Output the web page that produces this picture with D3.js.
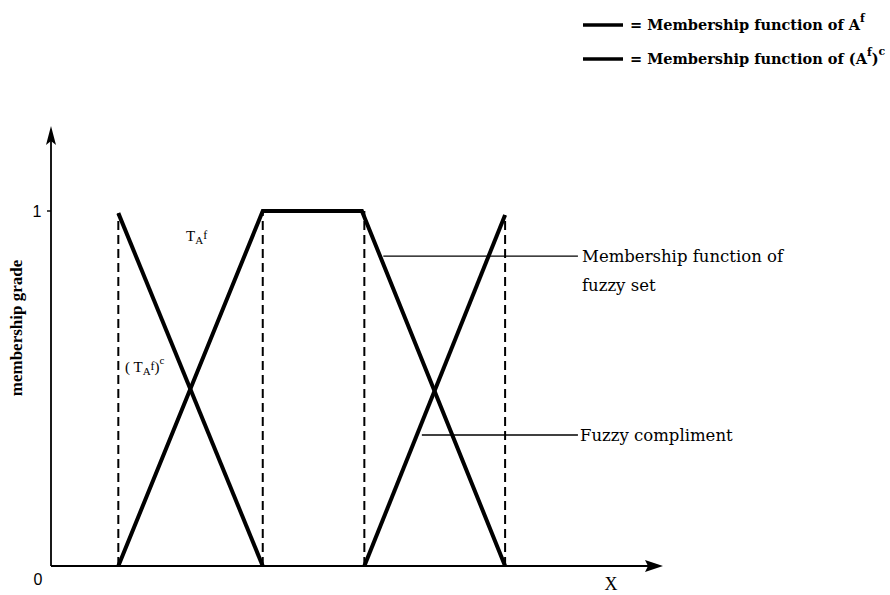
<!DOCTYPE html>
<html><head><meta charset="utf-8">
<script src="https://cdn.jsdelivr.net/npm/d3@7"></script>
<style>body{margin:0;background:#fff}svg{display:block}</style>
</head><body>
<script>
// Data (abstract x units along universe X, y = membership grade)
const fuzzySetX = [11, 34.6, 50.8, 74.2];
const fuzzySetY = [0, 1, 1, 0];
const complementLeftX = [11, 34.6];
const complementLeftY = [0.994, 0];
const complementRightX = [51.2, 74.2];
const complementRightY = [0, 0.989];
const dashedX = [11, 34.6, 51.2, 74.2];
const dashedTop = [0.994, 1, 1, 0.989];
const yTicks = [0, 1];
const annotations = ["Membership function of", "fuzzy set", "Fuzzy compliment"];
const leaderX1 = [54.3, 60.6];
const leaderY = [0.873, 0.369];

const W = 890, H = 595;
const svg = d3.select("body").append("svg").attr("width", W).attr("height", H);
const x = d3.scaleLinear().domain([0, 100]).range([51, 663]);
const y = d3.scaleLinear().domain([0, 1]).range([566, 211]);
const line = d3.line().x(d => x(d[0])).y(d => y(d[1]));

// axes
svg.append("line").attr("x1", x(0)).attr("x2", x(100) - 12).attr("y1", y(0)).attr("y2", y(0))
  .attr("stroke", "#000").attr("stroke-width", 1.8);
svg.append("line").attr("x1", x(0)).attr("x2", x(0)).attr("y1", y(0)).attr("y2", 140)
  .attr("stroke", "#000").attr("stroke-width", 1.8);
// arrowheads
svg.append("path").attr("d", `M${x(100)},${y(0)} L${x(100)-18},${y(0)-6} L${x(100)-15},${y(0)} L${x(100)-18},${y(0)+6} Z`).attr("fill", "#000");
svg.append("path").attr("d", `M${x(0)},126 L${x(0)-5},145 L${x(0)},141 L${x(0)+5},145 Z`).attr("fill", "#000");
// y ticks
svg.append("line").attr("x1", x(0) - 4).attr("x2", x(0)).attr("y1", y(1)).attr("y2", y(1)).attr("stroke", "#000").attr("stroke-width", 1.4);
svg.selectAll("text.tick").data(yTicks).enter().append("text")
  .attr("x", d => d === 0 ? 38 : 37).attr("y", d => d === 0 ? 585 : y(d) + 6)
  .attr("text-anchor", "middle").attr("font-family", "Liberation Sans, Arial, sans-serif")
  .attr("font-size", 16).text(d => d);

svg.append("text").attr("transform", "translate(22,328) rotate(-90)").attr("text-anchor", "middle")
  .attr("font-family", "Liberation Serif, serif").attr("font-size", 17).attr("font-weight", "bold").text("membership grade");
svg.append("text").attr("x", 611).attr("y", 590).attr("text-anchor", "middle")
  .attr("font-family", "Liberation Serif, serif").attr("font-size", 18).text("X");

// dashed verticals
svg.selectAll("line.dash").data(dashedX).enter().append("line")
  .attr("x1", d => x(d)).attr("x2", d => x(d)).attr("y1", y(0)).attr("y2", (d, i) => y(dashedTop[i]))
  .attr("stroke", "#000").attr("stroke-width", 2).attr("stroke-dasharray", "9,5");

// leader lines
leaderY.forEach((v, i) => {
  svg.append("line").attr("x1", x(leaderX1[i])).attr("x2", x(86.1)).attr("y1", y(v)).attr("y2", y(v))
    .attr("stroke", "#000").attr("stroke-width", 1.4);
});

// membership functions
svg.append("path").datum(d3.zip(fuzzySetX, fuzzySetY)).attr("d", line)
  .attr("fill", "none").attr("stroke", "#000").attr("stroke-width", 4).attr("stroke-linejoin", "miter");
[[complementLeftX, complementLeftY], [complementRightX, complementRightY]].forEach(([cx, cy]) => {
  svg.append("path").datum(d3.zip(cx, cy)).attr("d", line)
    .attr("fill", "none").attr("stroke", "#000").attr("stroke-width", 4);
});

// annotation texts
const af = "DejaVu Serif, serif";
svg.append("text").attr("x", 582).attr("y", y(leaderY[0]) + 6).attr("font-family", af).attr("font-size", 16.5).text(annotations[0]);
svg.append("text").attr("x", 582).attr("y", y(leaderY[0]) + 35).attr("font-family", af).attr("font-size", 16.5).text(annotations[1]);
svg.append("text").attr("x", 580).attr("y", y(leaderY[1]) + 6).attr("font-family", af).attr("font-size", 16.5).text(annotations[2]);

// T_A^f labels
function tLabel(g, px, py, comp) {
  const t = g.append("text").attr("x", px).attr("y", py).attr("font-family", "Liberation Serif, serif").attr("font-size", 15);
  if (comp) t.append("tspan").text("( ");
  t.append("tspan").text("T");
  t.append("tspan").attr("dy", 3).attr("font-size", 11).text("A");
  t.append("tspan").attr("dy", -5).attr("font-size", 12).text("f");
  if (comp) { t.append("tspan").attr("dy", 2).text(")"); t.append("tspan").attr("dy", -8).attr("font-size", 11).text("c"); }
}
tLabel(svg, 186, 241, false);
tLabel(svg, 125, 372, true);

// legend
const legF = "DejaVu Serif, serif";
const leg = [{y: 22, label: "A", sup: "f", comp: false}, {y: 56, label: "A", sup: "f", comp: true}];
leg.forEach(d => {
  svg.append("line").attr("x1", 583).attr("x2", 623).attr("y1", d.y + 3).attr("y2", d.y + 3).attr("stroke", "#000").attr("stroke-width", 3.5);
  const t = svg.append("text").attr("x", 630).attr("y", d.y + 8).attr("font-family", legF).attr("font-size", 14.5).attr("font-weight", "bold");
  t.append("tspan").text("= Membership function of " + (d.comp ? "(" : "") + d.label);
  t.append("tspan").attr("dy", -8).attr("font-size", 11).text(d.sup);
  if (d.comp) { t.append("tspan").attr("dy", 8).text(")"); t.append("tspan").attr("dy", -9).attr("font-size", 11).text("c"); }
});
</script>
</body></html>
